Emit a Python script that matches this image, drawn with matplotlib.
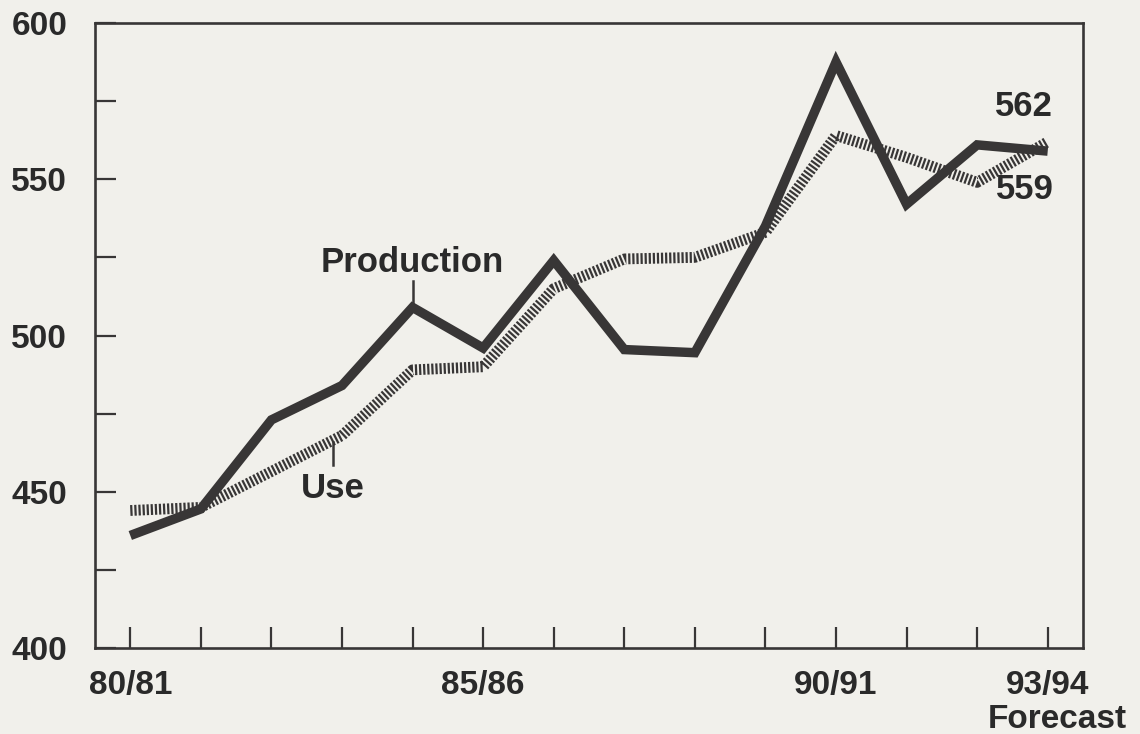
import numpy as np
import matplotlib
matplotlib.use("Agg")
import matplotlib.pyplot as plt

# crop years, 80/81 .. 93/94 (93/94 is a forecast)
years = ['80/81', '81/82', '82/83', '83/84', '84/85', '85/86', '86/87',
         '87/88', '88/89', '89/90', '90/91', '91/92', '92/93', '93/94']
shown_labels = ['80/81', '85/86', '90/91', '93/94']

production = [436, 444.5, 473, 484, 509, 496, 524, 495.5, 494.5, 535, 587.5, 542, 561, 559]
use = [444, 445, 456.5, 468, 489, 490, 515, 524.5, 525, 533, 564, 557, 549, 562]

bg = '#f1f0eb'
ink = '#383636'
txt = '#2a2a2a'

plt.rcParams['font.family'] = ['Liberation Sans', 'DejaVu Sans']
plt.rcParams['font.weight'] = 'bold'

fig = plt.figure(figsize=(11.4, 7.34), dpi=100, facecolor=bg)
ax = fig.add_axes([95 / 1140, 86 / 734, (1083 - 95) / 1140, (648 - 23) / 734])
ax.set_facecolor(bg)

x = np.arange(len(years))

# use: hatched band, drawn as very short dashes on a wide line
lw_use = 7.8
ln_use, = ax.plot(x, use, color=ink, lw=lw_use, solid_capstyle='butt',
                  dash_capstyle='butt', zorder=2)
ln_use.set_dashes((1.6 / lw_use, 1.35 / lw_use))

# production: solid thick line
ax.plot(x, production, color=ink, lw=6.8, solid_joinstyle='miter',
        solid_capstyle='butt', zorder=3)

ax.set_xlim(-0.5, 13.5)
ax.set_ylim(400, 600)

ax.set_xticks(x)
ax.set_xticklabels([y if y in shown_labels else '' for y in years])
ax.set_yticks([400, 450, 500, 550, 600])
ax.set_yticks([425, 475, 525, 575], minor=True)

ax.tick_params(axis='both', which='both', direction='in', length=15,
               width=1.6, color=ink, labelcolor=txt, labelsize=24)
ax.tick_params(axis='y', which='both', pad=20)
ax.tick_params(axis='x', pad=16)
for lab in ax.get_xticklabels() + ax.get_yticklabels():
    lab.set_fontweight('bold')

for s in ax.spines.values():
    s.set_color(ink)
    s.set_linewidth(1.9)

# annotations
ax.text(4, 523.5, 'Production', ha='center', va='center', fontsize=25,
        fontweight='bold', color=txt)
ax.plot([4, 4], [510, 517.5], color=ink, lw=1.8)

ax.text(2.87, 451, 'Use', ha='center', va='center', fontsize=25,
        fontweight='bold', color=txt)
ax.plot([2.87, 2.87], [466, 458.5], color=ink, lw=1.8)

ax.text(12.66, 573.3, '562', ha='center', va='center', fontsize=25,
        fontweight='bold', color=txt)
ax.text(12.67, 546.6, '559', ha='center', va='center', fontsize=25,
        fontweight='bold', color=txt)

ax.text(13.13, 374.5, 'Forecast', ha='center', va='baseline', fontsize=24,
        fontweight='bold', color=txt, clip_on=False)

fig.savefig('out.png', dpi=100, facecolor=bg)
